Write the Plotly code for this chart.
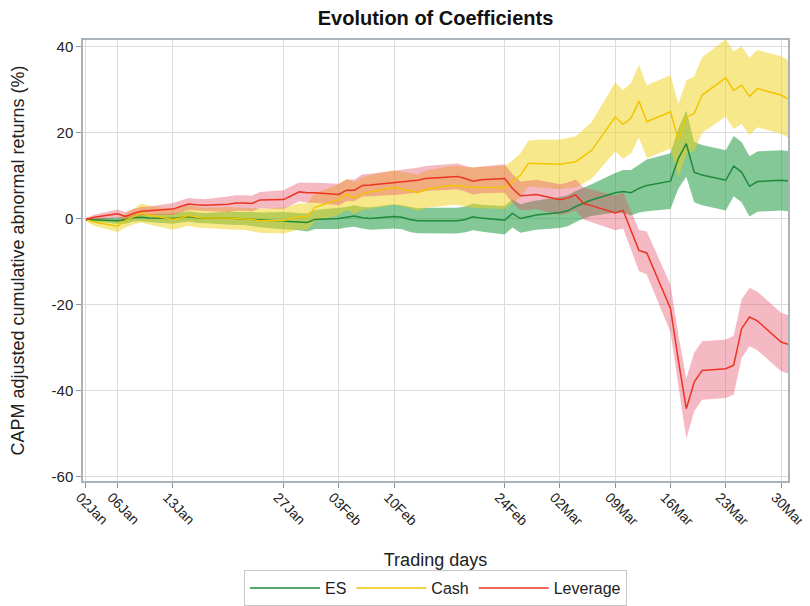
import plotly.graph_objects as go

dates = [
    "2020-01-02", "2020-01-03", "2020-01-06", "2020-01-07", "2020-01-08", "2020-01-09", "2020-01-10",
    "2020-01-13", "2020-01-14", "2020-01-15", "2020-01-16", "2020-01-17",
    "2020-01-20", "2020-01-21", "2020-01-22", "2020-01-23", "2020-01-24",
    "2020-01-27", "2020-01-28", "2020-01-29", "2020-01-30", "2020-01-31",
    "2020-02-03", "2020-02-04", "2020-02-05", "2020-02-06", "2020-02-07",
    "2020-02-10", "2020-02-11", "2020-02-12", "2020-02-13", "2020-02-14",
    "2020-02-17", "2020-02-18", "2020-02-19", "2020-02-20", "2020-02-21",
    "2020-02-24", "2020-02-25", "2020-02-26", "2020-02-27", "2020-02-28",
    "2020-03-02", "2020-03-03", "2020-03-04", "2020-03-05", "2020-03-06",
    "2020-03-09", "2020-03-10", "2020-03-11", "2020-03-12", "2020-03-13",
    "2020-03-16", "2020-03-17", "2020-03-18", "2020-03-19", "2020-03-20",
    "2020-03-23", "2020-03-24", "2020-03-25", "2020-03-26", "2020-03-27",
    "2020-03-30", "2020-03-31",
]

es_mean = [
    -0.2, -0.3, -0.5, -0.3, 0.2, 0.3, 0.1,
    0.0, 0.2, 0.5, 0.2, 0.1,
    0.1, 0.0, 0.0, -0.1, -0.3,
    -0.5, -0.6, -0.7, -0.9, -0.2,
    0.0, 0.3, 0.6, 0.2, 0.0,
    0.5, 0.3, -0.2, -0.5, -0.5,
    -0.5, -0.5, -0.2, 0.4, 0.1,
    -0.4, 1.2, 0.0, 0.4, 0.8,
    1.4, 1.8, 2.8, 3.6, 4.3,
    6.0, 6.3, 6.0, 7.0, 7.7,
    8.7, 14.0, 17.4, 10.8, 10.1,
    8.9, 12.2, 10.8, 7.5, 8.6,
    8.9, 8.7,
]
es_half = [
    0.3, 0.5, 0.7, 0.9, 0.9, 0.9, 0.9,
    1.2, 1.2, 1.2, 1.2, 1.2,
    1.5, 1.5, 1.5, 1.6, 1.7,
    2.0, 2.0, 2.0, 2.1, 2.2,
    2.4, 2.4, 2.5, 2.5, 2.6,
    2.8, 2.8, 2.9, 2.9, 3.0,
    3.0, 3.0, 3.0, 3.1, 3.1,
    3.3, 3.3, 3.3, 3.4, 3.4,
    3.6, 3.6, 3.6, 3.6, 3.7,
    4.6, 5.0, 5.3, 5.6, 6.0,
    6.5, 7.0, 7.7, 7.0, 7.0,
    7.0, 7.0, 7.0, 7.0, 7.0,
    7.0, 7.0,
]

cash_mean = [
    -0.2, -0.8, -1.8, -0.5, 0.4, 1.3, 0.8,
    -0.2, 0.2, 0.7, 0.3, 0.1,
    0.1, 0.0, 0.0, -0.2, -0.5,
    -0.5, 0.0, 0.5, 0.4, 2.6,
    4.4, 5.6, 4.8, 5.8, 6.2,
    7.2, 6.8, 6.5, 6.0, 6.8,
    7.6, 7.7, 7.4, 7.2, 7.2,
    7.2, 8.5, 10.1, 12.8, 12.8,
    12.6, 12.9, 13.2, 14.5, 15.8,
    23.6, 21.9, 23.3, 27.3, 22.5,
    24.8, 18.2, 23.5, 24.4, 28.7,
    32.7, 29.8, 31.0, 28.4, 30.2,
    28.7, 27.7,
]
cash_half = [
    0.4, 0.9, 1.3, 1.6, 1.8, 2.2, 2.2,
    2.4, 2.4, 2.4, 2.4, 2.4,
    2.6, 2.6, 2.6, 2.7, 2.8,
    3.0, 3.0, 3.0, 3.1, 3.3,
    3.6, 3.6, 3.7, 3.8, 3.9,
    4.0, 4.0, 4.1, 4.2, 4.3,
    4.5, 4.5, 4.6, 4.7, 4.8,
    5.0, 5.0, 5.1, 5.3, 5.5,
    5.8, 5.8, 5.9, 6.2, 6.6,
    8.0, 8.0, 8.2, 8.4, 8.5,
    8.5, 8.5, 8.6, 8.7, 8.8,
    9.0, 9.0, 9.0, 9.0, 9.0,
    9.0, 9.0,
]

lev_mean = [
    -0.2, 0.3, 1.1, 0.5, 1.2, 1.7, 1.8,
    2.2, 2.8, 3.4, 3.2, 3.1,
    3.3, 3.6, 3.6, 3.5, 4.3,
    4.4, 5.3, 6.2, 6.0, 6.0,
    5.6, 6.6, 6.6, 7.7, 7.8,
    8.3, 8.5, 8.6, 8.9, 9.3,
    9.7, 9.8, 9.3, 8.7, 9.0,
    9.3, 7.0, 5.3, 5.4, 5.6,
    4.4, 4.8, 5.5, 3.5, 3.0,
    1.3, 1.9, -2.7, -7.4, -8.0,
    -20.9, -33.0, -44.2, -38.0, -35.3,
    -34.9, -34.1, -25.6, -22.9, -23.8,
    -28.7, -29.3,
]
lev_half = [
    0.3, 0.6, 1.0, 1.0, 1.0, 1.0, 1.0,
    1.4, 1.4, 1.4, 1.4, 1.4,
    1.8, 1.8, 1.8, 1.8, 1.9,
    2.2, 2.2, 2.2, 2.3, 2.3,
    2.5, 2.5, 2.5, 2.6, 2.6,
    2.8, 2.8, 2.8, 2.9, 2.9,
    3.0, 3.0, 3.0, 3.1, 3.1,
    3.3, 3.3, 3.3, 3.4, 3.4,
    3.6, 3.6, 3.6, 3.7, 3.8,
    4.0, 4.2, 4.5, 4.8, 5.0,
    5.5, 6.0, 7.0, 6.8, 6.8,
    6.8, 6.8, 6.8, 6.8, 6.8,
    6.8, 6.8,
]

tick_dates = ["2020-01-02", "2020-01-06", "2020-01-13", "2020-01-27", "2020-02-03", "2020-02-10",
              "2020-02-24", "2020-03-02", "2020-03-09", "2020-03-16", "2020-03-23", "2020-03-30"]
tick_labels = ["02Jan", "06Jan", "13Jan", "27Jan", "03Feb", "10Feb",
               "24Feb", "02Mar", "09Mar", "16Mar", "23Mar", "30Mar"]
y_ticks = [-60, -40, -20, 0, 20, 40]
y_tick_labels = ["-60", "-40", "-20", "0", "20", "40"]

series = [
    ("ES", es_mean, es_half, "#1f8a3c", "rgba(30,155,63,0.55)"),
    ("Cash", cash_mean, cash_half, "#f2c500", "rgba(241,209,25,0.5)"),
    ("Leverage", lev_mean, lev_half, "#ee3322", "rgba(228,80,105,0.4)"),
]

fig = go.Figure()
for name, m, h, lc, fc in series:
    upper = [a + b for a, b in zip(m, h)]
    lower = [a - b for a, b in zip(m, h)]
    fig.add_trace(go.Scatter(x=dates + dates[::-1], y=upper + lower[::-1], fill="toself",
                             fillcolor=fc, line=dict(width=0), mode="lines",
                             showlegend=False, hoverinfo="skip"))
for name, m, h, lc, fc in series:
    fig.add_trace(go.Scatter(x=dates, y=m, mode="lines", name=name,
                             line=dict(color=lc, width=1.5)))

# page body has an 8px margin: figure is 802x598 placed at (8, 8)
W, H = 802, 598
font_family = "Liberation Sans, Arial, sans-serif"
fig.update_layout(
    width=W, height=H,
    margin=dict(l=75, r=22, t=32, b=125, autoexpand=False),
    paper_bgcolor="white", plot_bgcolor="white",
    font=dict(family=font_family, size=14, color="#222222"),
    title=dict(text="<b>Evolution of Coefficients</b>", x=0.5, xref="paper", xanchor="center",
               y=1 - 10 / H, yref="container", yanchor="middle",
               font=dict(size=20, color="#111111")),
    showlegend=True,
    legend=dict(orientation="h", x=0.5, xanchor="center", xref="paper",
                y=0.0, yref="container", yanchor="bottom",
                bordercolor="#c8c8c8", borderwidth=1, bgcolor="white",
                font=dict(size=16, color="#222222"), itemwidth=70,
                traceorder="normal"),
)
fig.update_xaxes(
    type="date", range=["2020-01-01 15:00", "2020-03-30 21:00"],
    tickvals=tick_dates, ticktext=tick_labels, tickangle=45,
    ticklabeloverflow="allow", ticklabelshift=-6, ticklabelstandoff=-4,
    showgrid=True, gridcolor="#dcdcdc", gridwidth=1,
    showline=True, linecolor="#aab2ba", linewidth=1.5, mirror=True,
    ticks="outside", ticklen=5, tickcolor="#8a929a",
    tickfont=dict(size=14, color="#222222"),
    title=dict(text="Trading days", font=dict(size=18, color="#222222"), standoff=26),
    zeroline=False, automargin=False,
)
fig.update_yaxes(
    range=[-61, 41.5], tickvals=y_ticks, ticktext=y_tick_labels,
    showgrid=True, gridcolor="#dcdcdc", gridwidth=1,
    showline=True, linecolor="#aab2ba", linewidth=1.5, mirror=True,
    ticks="outside", ticklen=5, tickcolor="#8a929a",
    tickfont=dict(size=15, color="#222222"),
    title=dict(text="CAPM adjusted cumulative abnormal returns (%)",
               font=dict(size=18, color="#222222"), standoff=24),
    zeroline=False, automargin=False,
)

fig.write_html("out.html")
